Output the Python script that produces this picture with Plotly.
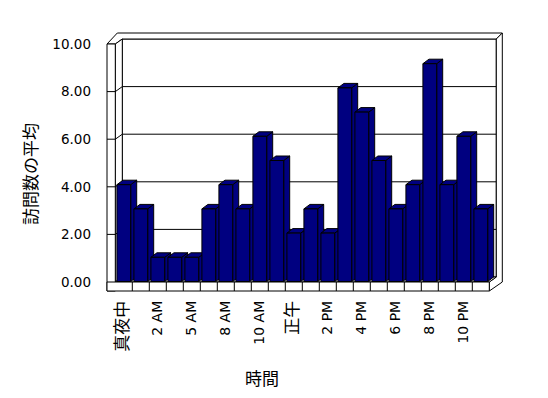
import plotly.graph_objects as go

# ---- data ----
hours = ["真夜中", "1 AM", "2 AM", "3 AM", "5 AM", "7 AM", "8 AM", "9 AM", "10 AM", "11 AM",
         "正午", "1 PM", "2 PM", "3 PM", "4 PM", "5 PM", "6 PM", "7 PM", "8 PM", "9 PM",
         "10 PM", "11 PM"]
avg_visits = [4, 3, 1, 1, 1, 3, 4, 3, 6, 5, 2, 3, 2, 8, 7, 5, 3, 4, 9, 4, 6, 3]
y_ticks = [0, 2, 4, 6, 8, 10]
x_title = "時間"
y_title = "訪問数の平均"

# ---- layout geometry (page pixels) ----
W, H = 548, 398
OFF = 8                            # page body margin
PL, PR, PT, PB = 103, 506, 30, 294
CAT0, CATW = 115.3, 17.0          # first category boundary, category width (px)
BAR0, BARS = 281.5, 24.2          # bar scale: value 0 pixel, px per unit
WAL0, WALS = 282.0, 23.8          # wall/label scale
DEP = (7.0, 5.0)                  # wall depth offset (right, up)
BDEP = (6.0, 4.5)                 # bar depth offset
NAVY = "#000080"
FONT = "DejaVu Sans, Noto Sans CJK JP, sans-serif"

def X(p):
    return (p - CAT0) / CATW - 0.5

def YB(q):
    return (BAR0 - q) / BARS

def Y2(q):
    return (WAL0 - q) / WALS

def wq(v):
    return WAL0 - WALS * v

def poly(pts, ref="y2", fill="white", conv=True):
    d = ""
    for k, (p, q) in enumerate(pts):
        xx = X(p) if conv else p
        yy = Y2(q) if conv else q
        d += ("M" if k == 0 else "L") + f"{xx},{yy} "
    d += "Z"
    return dict(type="path", path=d, xref="x", yref=ref, fillcolor=fill,
                line=dict(color="black", width=1), layer="below")

def seg(pts):
    d = ""
    for k, (p, q) in enumerate(pts):
        d += ("M" if k == 0 else "L") + f"{X(p)},{Y2(q)} "
    return dict(type="path", path=d, xref="x", yref="y2",
                line=dict(color="black", width=1), layer="below")

n = len(hours)
FL, FR = 107.0, CAT0 + CATW * n
FT, FB = wq(10), wq(0)
FLOORB = FB + 9
BX, BY = DEP
shapes = []
# back wall
shapes.append(poly([(CAT0 + BX, FB - BY), (FR + BX, FB - BY), (FR + BX, FT - BY), (CAT0 + BX, FT - BY)]))
for v in y_ticks[1:-1]:
    shapes.append(seg([(CAT0 + BX, wq(v) - BY), (FR + BX, wq(v) - BY)]))
# top thickness
shapes.append(poly([(FL, FT), (CAT0, FT), (CAT0 + BX, FT - BY), (FR + BX, FT - BY),
                    (FR + BX + 6, FT - BY - 6), (CAT0 + 2, FT - BY - 6)]))
# right thickness + floor side
shapes.append(poly([(FR + BX, FT - BY), (FR + BX + 6, FT - BY - 6), (FR + BX + 6, FB),
                    (FR, FLOORB), (FR, FB), (FR + BX, FB - BY)]))
# side wall inner face
shapes.append(poly([(CAT0, FT), (CAT0 + BX, FT - BY), (CAT0 + BX, FB - BY), (CAT0, FB)]))
# side wall front strip
shapes.append(poly([(FL, FT), (CAT0, FT), (CAT0, FLOORB), (FL, FLOORB)]))
for v in y_ticks[1:-1]:
    shapes.append(seg([(FL, wq(v)), (CAT0, wq(v)), (CAT0 + BX, wq(v) - BY)]))
# floor top
shapes.append(poly([(CAT0, FB), (CAT0 + BX, FB - BY), (FR + BX, FB - BY), (FR, FB)]))
# floor front strip with dividers
shapes.append(poly([(FL, FB), (FR, FB), (FR, FLOORB), (FL, FLOORB)]))
for k in range(1, n):
    shapes.append(seg([(CAT0 + CATW * k, FB), (CAT0 + CATW * k, FLOORB)]))

# bar 3D faces
bw = 0.81
dx, dy = BDEP[0] / CATW, BDEP[1] / BARS
for i, v in enumerate(avg_visits):
    xl, xr = i - bw / 2, i + bw / 2
    shapes.append(poly([(xr, 0), (xr + dx, dy), (xr + dx, v + dy), (xr, v)], ref="y", fill=NAVY, conv=False))
    shapes.append(poly([(xl, v), (xl + dx, v + dy), (xr + dx, v + dy), (xr, v)], ref="y", fill=NAVY, conv=False))

def lab(s):
    if any(ord(c) > 127 for c in s):
        return f'<span style="font-size:17px;color:#000000">{s}</span>'
    return s

tick_idx = list(range(0, n, 2))

fig = go.Figure()
fig.add_trace(go.Bar(x=list(range(n)), y=avg_visits, width=bw,
                     marker=dict(color=NAVY, line=dict(color="black", width=1)),
                     hoverinfo="skip", showlegend=False))
fig.add_trace(go.Scatter(x=[None], y=[None], yaxis="y2", showlegend=False, hoverinfo="skip"))

fig.update_layout(
    width=W, height=H,
    margin=dict(l=PL - OFF, r=W + OFF - PR, t=PT - OFF, b=H + OFF - PB, pad=0),
    paper_bgcolor="white", plot_bgcolor="white",
    font=dict(family=FONT, size=14, color="black"),
    showlegend=False,
    shapes=shapes,
    xaxis=dict(range=[X(PL), X(PR)], tickmode="array", tickvals=tick_idx,
               ticktext=[lab(hours[i]) for i in tick_idx], tickangle=-90,
               showgrid=False, zeroline=False, showline=False, ticks="",
               ticklabelstandoff=3, tickfont=dict(size=14, color="black"), fixedrange=True),
    yaxis=dict(range=[YB(PB), YB(PT)], visible=False, fixedrange=True),
    yaxis2=dict(range=[Y2(PB), Y2(PT)], overlaying="y", side="left", anchor="x",
                tickmode="array", tickvals=y_ticks, ticktext=[f"{v:.2f}" for v in y_ticks],
                showgrid=False, zeroline=False, showline=False, ticks="",
                ticklabelstandoff=11, tickfont=dict(size=13.5, color="black"), fixedrange=True),
    annotations=[
        dict(text=y_title, textangle=-90, showarrow=False, xref="paper", yref="paper",
             x=(29 - PL) / (PR - PL), y=(PB - 174) / (PB - PT), xanchor="center", yanchor="middle",
             font=dict(size=17, family="Noto Sans CJK JP", color="black")),
        dict(text=x_title, showarrow=False, xref="paper", yref="paper",
             x=(262 - PL) / (PR - PL), y=(PB - 377) / (PB - PT), xanchor="center", yanchor="middle",
             font=dict(size=17, family="Noto Sans CJK JP", color="black")),
    ],
)
fig.write_html("out.html")
